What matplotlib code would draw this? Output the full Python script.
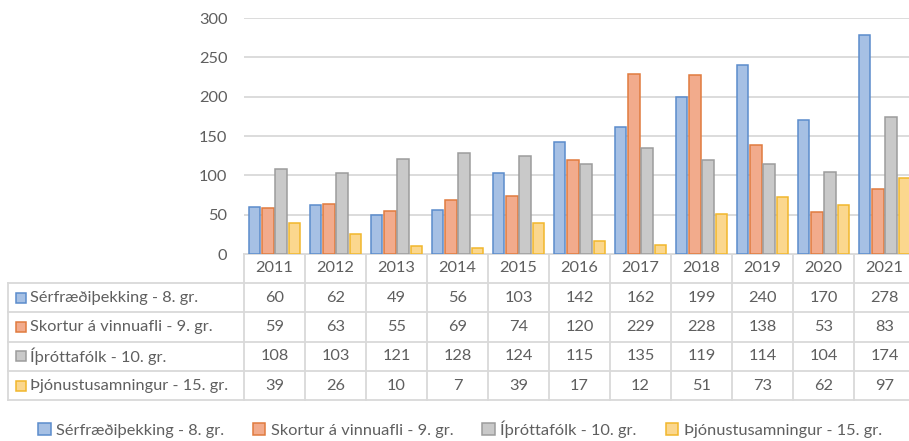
import matplotlib.pyplot as plt
from matplotlib.patches import Patch, Rectangle

# gögn
years = ['2011', '2012', '2013', '2014', '2015', '2016', '2017', '2018', '2019', '2020', '2021']
labels = ['Sérfræðiþekking - 8. gr.', 'Skortur á vinnuafli - 9. gr.',
          'Íþróttafólk - 10. gr.', 'Þjónustusamningur - 15. gr.']
serfraedi = [60, 62, 49, 56, 103, 142, 162, 199, 240, 170, 278]
skortur = [59, 63, 55, 69, 74, 120, 229, 228, 138, 53, 83]
ithrottafolk = [108, 103, 121, 128, 124, 115, 135, 119, 114, 104, 174]
thjonusta = [39, 26, 10, 7, 39, 17, 12, 51, 73, 62, 97]
series = [serfraedi, skortur, ithrottafolk, thjonusta]

fills = ['#a6c0e4', '#f2ab8c', '#c9c9c9', '#fbd78e']
edges = ['#5b8ccc', '#e07b3f', '#9c9c9c', '#f1b72c']
txt = '#5f5f5f'
line = '#d9d9d9'
plt.rcParams['font.family'] = ['Lato', 'DejaVu Sans']
fs = 11.8

W, H = 909, 441
fig = plt.figure(figsize=(W / 100, H / 100), dpi=100)

# plot svæði (nær aðeins út fyrir hægri brún eins og í fyrirmyndinni)
left, right, top, bottom = 244, 915, 18, 254
ax = fig.add_axes([left / W, (H - bottom) / H, (right - left) / W, (bottom - top) / H])
x = list(range(len(years)))
offsets = [-0.33, -0.11, 0.11, 0.33]
for s, off, fc, ec in zip(series, offsets, fills, edges):
    ax.bar([i + off for i in x], s, width=0.19, color=fc, edgecolor=ec, linewidth=1.1, zorder=3)
ax.set_xlim(-0.5, len(years) - 0.5)
ax.set_ylim(0, 300)
ax.set_yticks(range(0, 301, 50))
ax.yaxis.grid(True, color=line, linewidth=1.3, zorder=0)
ax.set_xticks([])
for sp in ax.spines.values():
    sp.set_visible(False)
ax.tick_params(axis='y', length=0, pad=12, labelsize=fs, labelcolor=txt)

# tafla undir
ov = fig.add_axes([0, 0, 1, 1], zorder=-1)
ov.set_xlim(0, W)
ov.set_ylim(H, 0)
ov.axis('off')
colw = (right - left) / len(years)
rows = [254, 283, 312.3, 341.6, 370.9, 400.2]
tleft = 8
lw = 1.3
for k, y in enumerate(rows):
    x0 = left if k == 0 else tleft
    ov.plot([x0, right], [y, y], color=line, lw=lw)
ov.plot([tleft, tleft], [rows[1], rows[-1]], color=line, lw=lw)
for i in range(len(years) + 1):
    xc = left + i * colw
    ov.plot([xc, xc], [rows[0], rows[-1]], color=line, lw=lw)

for i, yr in enumerate(years):
    ov.text(left + (i + 0.5) * colw, (rows[0] + rows[1]) / 2, yr, ha='center', va='center',
            color=txt, fontsize=fs)
for r, (lab, s, fc, ec) in enumerate(zip(labels, series, fills, edges)):
    yc = (rows[r + 1] + rows[r + 2]) / 2
    ov.add_patch(Rectangle((16, yc - 5), 10, 10, facecolor=fc, edgecolor=ec, lw=1.1))
    ov.text(30, yc, lab, ha='left', va='center', color=txt, fontsize=fs)
    for i, v in enumerate(s):
        ov.text(left + (i + 0.5) * colw, yc, str(v), ha='center', va='center',
                color=txt, fontsize=fs)

# skýring
handles = [Patch(facecolor=fc, edgecolor=ec, linewidth=1.1) for fc, ec in zip(fills, edges)]
fig.legend(handles, labels, loc='center', bbox_to_anchor=(460 / W, (H - 429) / H), ncol=4,
           frameon=False, fontsize=fs, labelcolor=txt, handlelength=0.75, handleheight=0.75,
           handletextpad=0.35, columnspacing=1.75)

plt.savefig('out.png', dpi=100)
plt.close()
